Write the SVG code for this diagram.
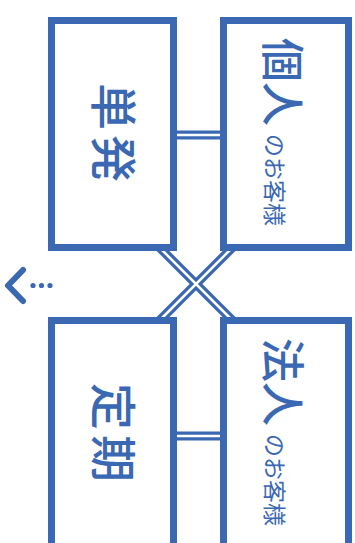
<svg xmlns="http://www.w3.org/2000/svg" width="355" height="543" viewBox="0 0 355 543">
<style>
.box{fill:#fff;stroke:#3a68b3;stroke-width:7}
.lo{stroke:#3a68b3;stroke-width:9;fill:none}
.li{stroke:#fff;stroke-width:2.5;fill:none}
.t{font-family:"Noto Sans CJK JP","Noto Sans CJK SC",sans-serif;fill:#3a68b3;font-weight:500}
.s{font-size:23px;font-weight:normal}
</style>
<rect width="355" height="543" fill="#fff"/>
<g id="connectors">
<line class="lo" x1="170" y1="135" x2="227" y2="135"/>
<line class="lo" x1="170" y1="436" x2="227" y2="436"/>
<line class="lo" x1="150" y1="238" x2="242" y2="330"/>
<line class="lo" x1="242" y1="238" x2="150" y2="330"/>
<line class="li" x1="170" y1="135" x2="227" y2="135"/>
<line class="li" x1="170" y1="436" x2="227" y2="436"/>
<line class="li" x1="150" y1="238" x2="242" y2="330"/>
<line class="li" x1="242" y1="238" x2="150" y2="330"/>
</g>
<g id="tanpatsu">
<rect class="box" x="51.5" y="20.5" width="122" height="227"/>
<text class="t" font-size="47" letter-spacing="5" transform="translate(96,83) rotate(90)">単発</text>
</g>
<g id="kojin">
<rect class="box" x="223.5" y="20.5" width="125" height="227"/>
<text class="t" font-size="44" transform="translate(266,38) rotate(90)">個人<tspan class="s" dx="8">のお客様</tspan></text>
</g>
<g id="teiki">
<rect class="box" x="51.5" y="320.5" width="122" height="240"/>
<text class="t" font-size="47" letter-spacing="5" transform="translate(96,383) rotate(90)">定期</text>
</g>
<g id="houjin">
<rect class="box" x="223.5" y="320.5" width="125" height="240"/>
<text class="t" font-size="44" transform="translate(266,338) rotate(90)">法人<tspan class="s" dx="8">のお客様</tspan></text>
</g>
<g id="arrow" fill="#3a68b3">
<polyline points="23,270 8,285.5 23,301" fill="none" stroke="#3a68b3" stroke-width="6" stroke-linecap="round" stroke-linejoin="round"/>
<circle cx="33" cy="285.5" r="2.6"/>
<circle cx="41.5" cy="285.5" r="2.6"/>
<circle cx="50" cy="285.5" r="2.6"/>
</g>
</svg>
